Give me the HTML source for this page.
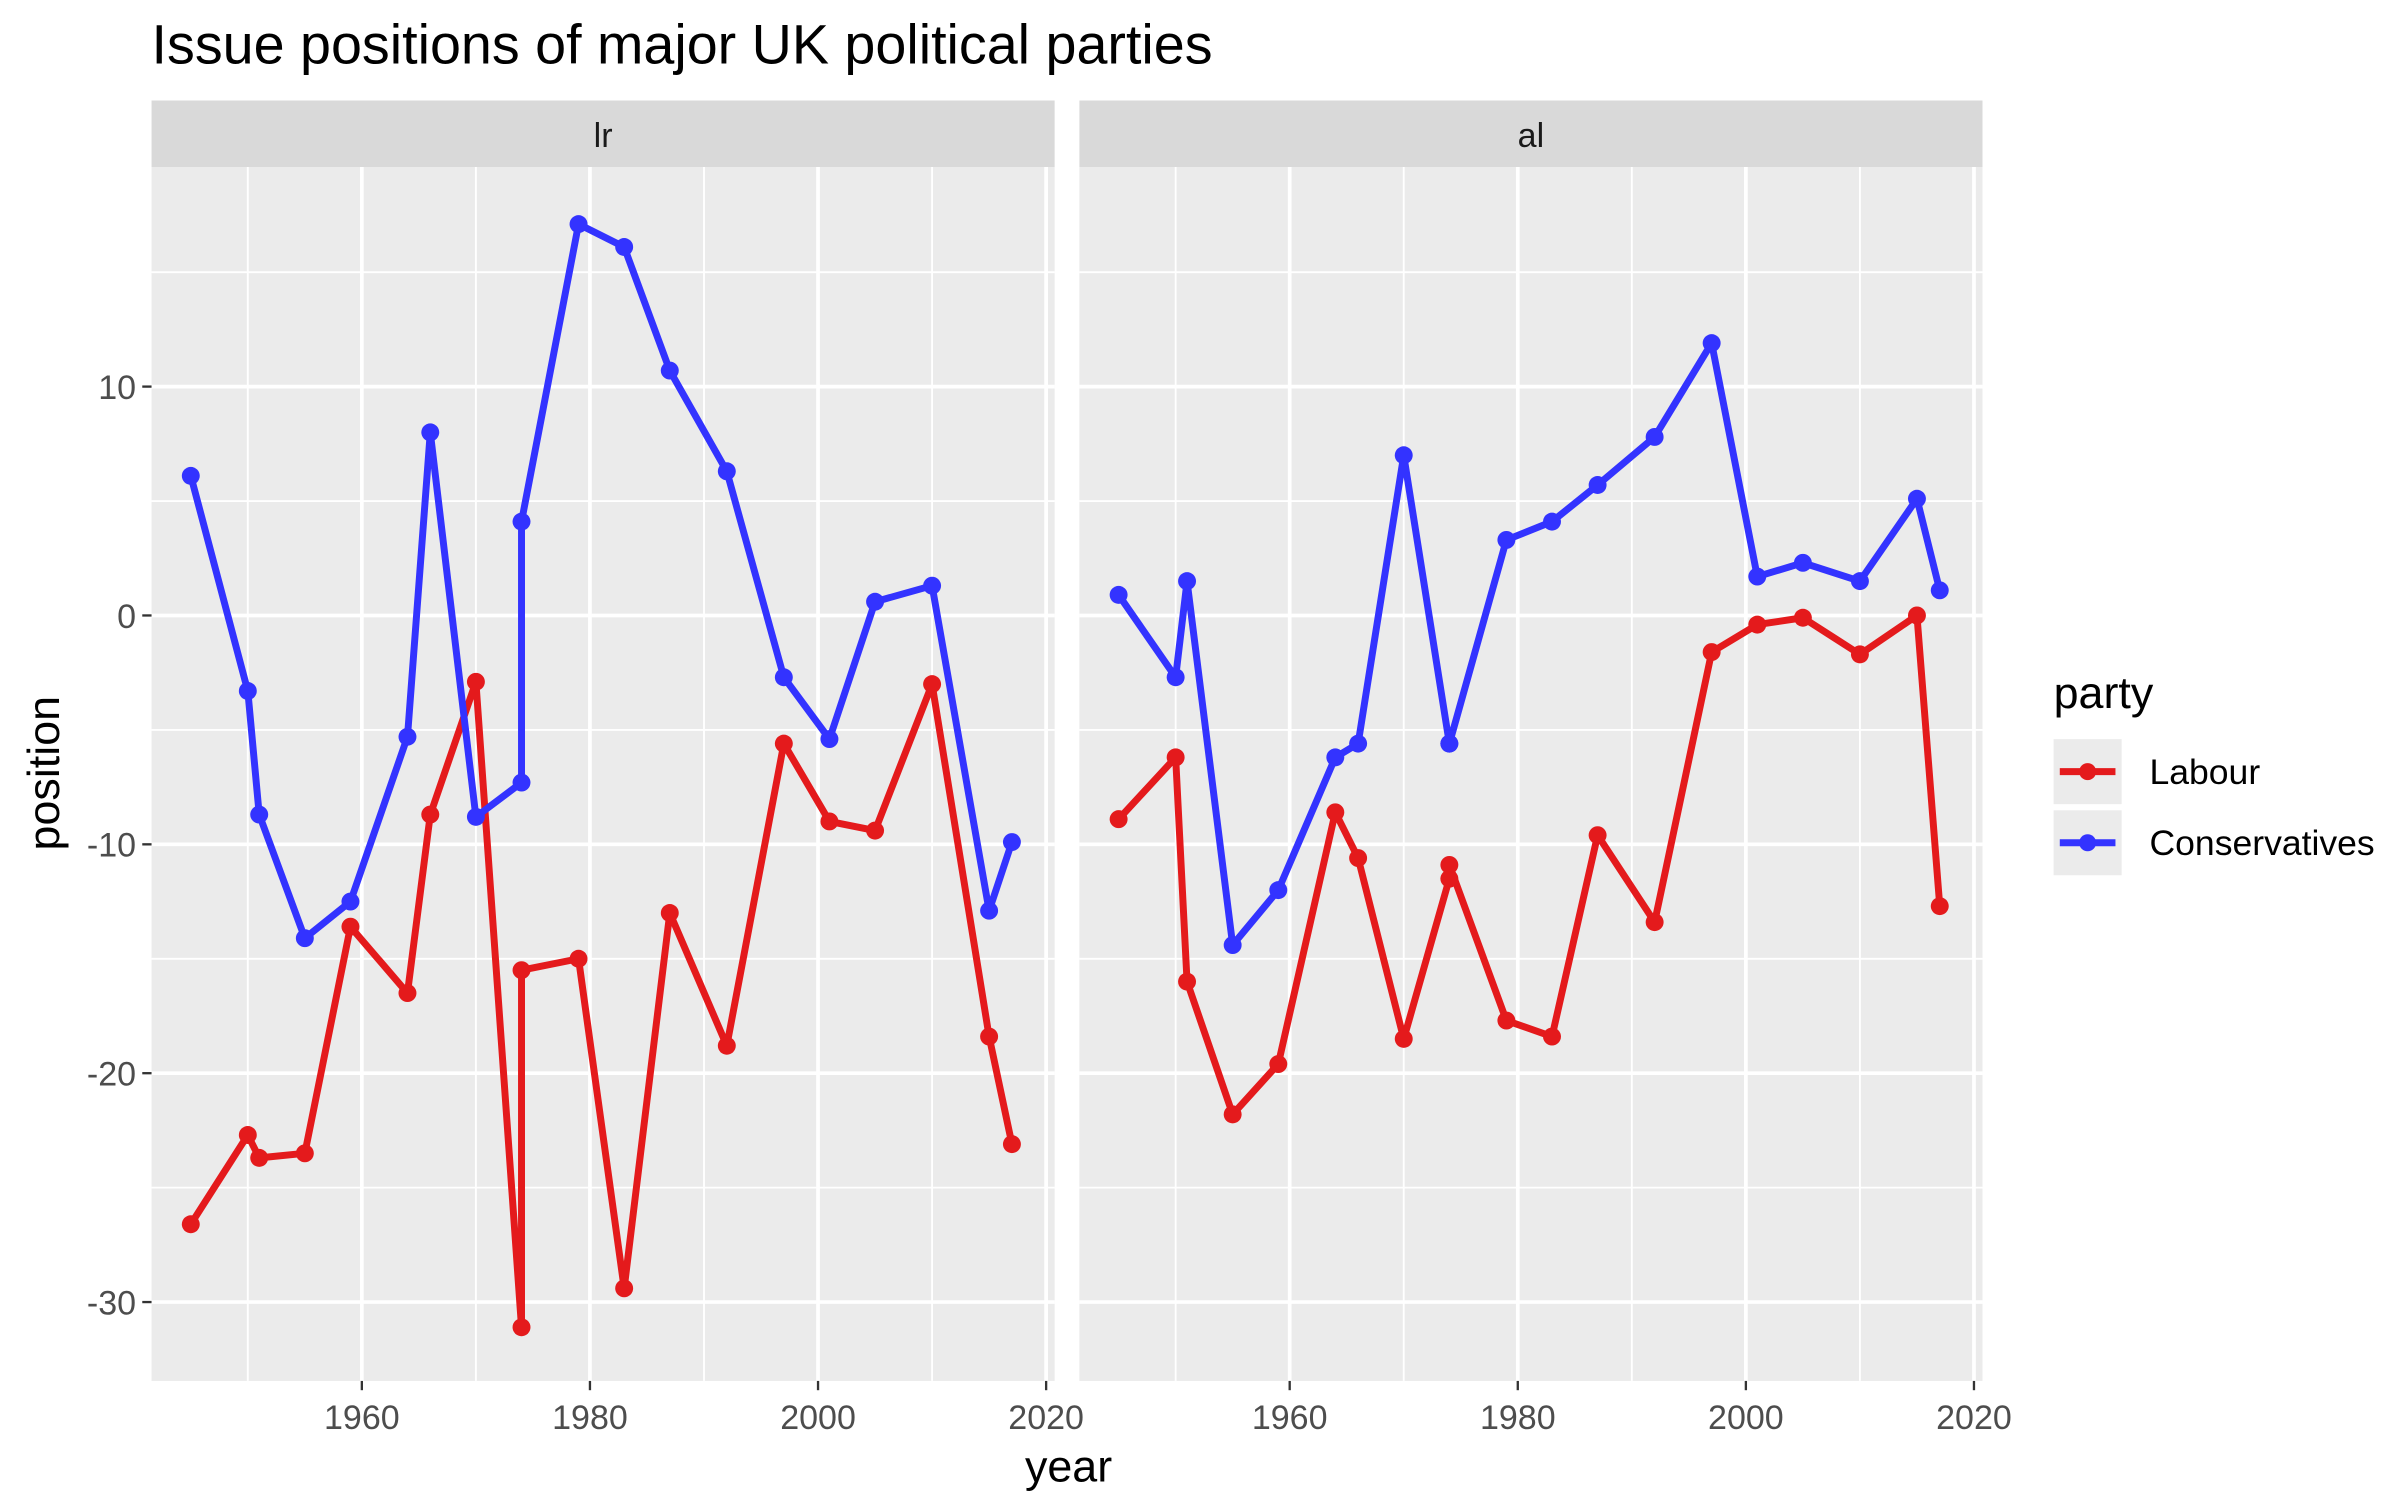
<!DOCTYPE html>
<html><head><meta charset="utf-8"><style>
html,body{margin:0;padding:0;background:#fff}
svg{display:block;font-family:"Liberation Sans",Arial,sans-serif}
</style></head><body>
<svg id="chart" width="2400" height="1500" viewBox="0 0 1552 970" xmlns="http://www.w3.org/2000/svg">
<rect width="1552" height="970" fill="#fff"/>
<text x="98" y="41" font-size="36" fill="#000">Issue positions of major UK political parties</text>
<g id="panels"></g>
<text x="691" y="958" font-size="29" text-anchor="middle" fill="#000">year</text>
<text transform="translate(38,500) rotate(-90)" font-size="29" text-anchor="middle" fill="#000">position</text>
<g>
<text x="1328" y="458" font-size="29" fill="#000">party</text>
<g>
<rect x="1328" y="478" width="44" height="42" fill="#ebebeb"/>
<line x1="1332" y1="499" x2="1368" y2="499" stroke="#e41a1c" stroke-width="4.5"/>
<circle cx="1350" cy="499" r="5.5" fill="#e41a1c"/>
<text x="1390" y="507" font-size="23" fill="#000">Labour</text></g>
<g>
<rect x="1328" y="524" width="44" height="42" fill="#ebebeb"/>
<line x1="1332" y1="545" x2="1368" y2="545" stroke="#3333ff" stroke-width="4.5"/>
<circle cx="1350" cy="545" r="5.5" fill="#3333ff"/>
<text x="1390" y="553" font-size="23" fill="#000">Conservatives</text></g>
</g>
</svg>
<script>
const years = [1945,1950,1951,1955,1959,1964,1966,1970,1974,1974,1979,1983,1987,1992,1997,2001,2005,2010,2015,2017];
const lrLabour = [-26.6,-22.7,-23.7,-23.5,-13.6,-16.5,-8.7,-2.9,-31.1,-15.5,-15.0,-29.4,-13.0,-18.8,-5.6,-9.0,-9.4,-3.0,-18.4,-23.1];
const lrCons = [6.1,-3.3,-8.7,-14.1,-12.5,-5.3,8.0,-8.8,-7.3,4.1,17.1,16.1,10.7,6.3,-2.7,-5.4,0.6,1.3,-12.9,-9.9];
const alLabour = [-8.9,-6.2,-16.0,-21.8,-19.6,-8.6,-10.6,-18.5,-11.5,-10.9,-17.7,-18.4,-9.6,-13.4,-1.6,-0.4,-0.1,-1.7,0.0,-12.7];
const alCons = [0.9,-2.7,1.5,-14.4,-12.0,-6.2,-5.6,7.0,-5.6,-5.6,3.3,4.1,5.7,7.8,11.9,1.7,2.3,1.5,5.1,1.1];
const panelNames = ["lr","al"];
const yTicks = [10,0,-10,-20,-30];
const xTicks = [1960,1980,2000,2020];

const NS="http://www.w3.org/2000/svg";
const pTop=108,pBottom=893,pw=584;
function yS(v){return 398 - v*14.8;}
function xS(left,yr){return left+136+(yr-1960)*7.375;}
function mk(tag,attrs,parent){const e=document.createElementNS(NS,tag);for(const k in attrs)e.setAttribute(k,attrs[k]);parent.appendChild(e);return e;}
const root=document.getElementById('panels');
const series=[[lrLabour,lrCons],[alLabour,alCons]];
const colors=["#e41a1c","#3333ff"];
const sNames=["labour","conservatives"];
panelNames.forEach((pn,pi)=>{
  const left=98+pi*600;
  const g=mk('g',{},root);
  
  
  const strip=mk('rect',{x:left,y:65,width:pw,height:43,fill:'#d9d9d9'},g);
  
  
  const st=mk('text',{x:left+pw/2,y:95,'font-size':22,'text-anchor':'middle',fill:'#1a1a1a'},g);
  st.textContent=pn;
  
  
  mk('rect',{x:left,y:pTop,width:pw,height:pBottom-pTop,fill:'#ebebeb'},g);
  for(let v=15;v>=-35;v-=10){const y=yS(v);if(y>pTop&&y<pBottom)mk('line',{x1:left,x2:left+pw,y1:y,y2:y,stroke:'#fff','stroke-width':1.2},g);}
  [1950,1970,1990,2010].forEach(yr=>{const x=xS(left,yr);mk('line',{x1:x,x2:x,y1:pTop,y2:pBottom,stroke:'#fff','stroke-width':1.2},g);});
  yTicks.forEach(v=>{const y=yS(v);mk('line',{x1:left,x2:left+pw,y1:y,y2:y,stroke:'#fff','stroke-width':2.4},g);});
  xTicks.forEach(yr=>{const x=xS(left,yr);mk('line',{x1:x,x2:x,y1:pTop,y2:pBottom,stroke:'#fff','stroke-width':2.4},g);
    mk('line',{x1:x,x2:x,y1:pBottom,y2:pBottom+6,stroke:'#333','stroke-width':1.5},g);
    const t=mk('text',{x:x,y:pBottom+31,'font-size':22,'text-anchor':'middle',fill:'#4d4d4d'},g);t.textContent=yr;
    
    
  });
  if(pi===0){yTicks.forEach(v=>{const y=yS(v);mk('line',{x1:left-6,x2:left,y1:y,y2:y,stroke:'#333','stroke-width':1.5},g);
    const t=mk('text',{x:left-10,y:y+8,'font-size':22,'text-anchor':'end',fill:'#4d4d4d'},g);t.textContent=v;
    
    
  });}
  series[pi].forEach((vals,si)=>{
    const pts=vals.map((v,i)=>xS(left,years[i]).toFixed(2)+','+yS(v).toFixed(2)).join(' ');
    const pl=mk('polyline',{points:pts,fill:'none',stroke:colors[si],'stroke-width':4.5,'stroke-linejoin':'round'},g);
    
    
    vals.forEach((v,i)=>{const c=mk('circle',{cx:xS(left,years[i]),cy:yS(v),r:5.8,fill:colors[si]},g);
      
      
    });
  });
});
</script>
</body></html>
